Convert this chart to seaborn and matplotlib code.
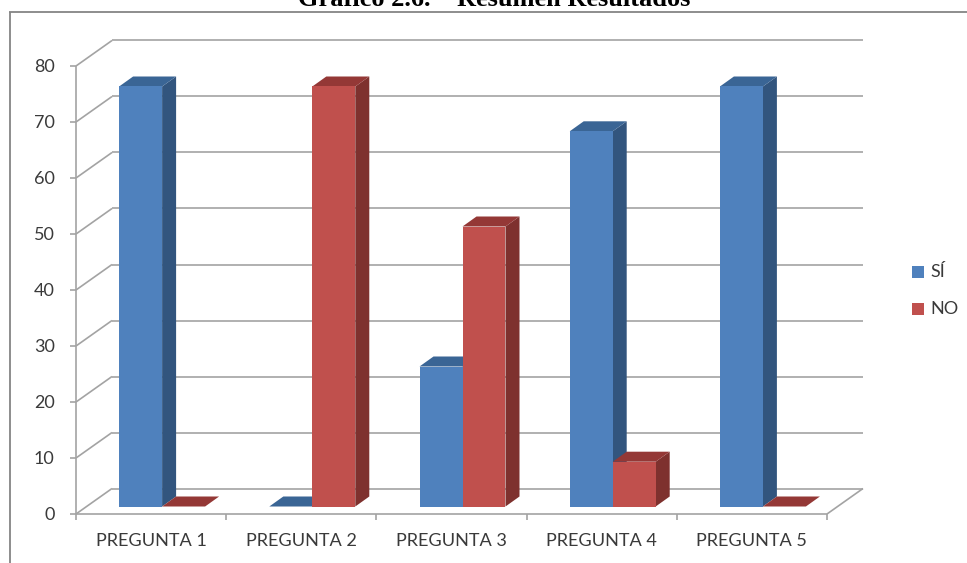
import matplotlib
matplotlib.use("Agg")
import matplotlib.pyplot as plt
from matplotlib.lines import Line2D
from matplotlib.patches import Polygon, Rectangle
from matplotlib.transforms import Affine2D
import pandas as pd
import seaborn as sns

categories = ["PREGUNTA 1", "PREGUNTA 2", "PREGUNTA 3", "PREGUNTA 4", "PREGUNTA 5"]
si_values = [75, 0, 25, 67, 75]
no_values = [0, 75, 50, 8, 0]
y_ticks = [0, 10, 20, 30, 40, 50, 60, 70, 80]
series_names = ["SÍ", "NO"]

FRONT = {"SÍ": "#4F81BD", "NO": "#C0504D"}
SIDE = {"SÍ": "#32557E", "NO": "#7E312E"}
TOP = {"SÍ": "#3A6595", "NO": "#943836"}
GRID = "#A3A3A3"
TEXT = "#3A3A3A"
W, H = 967, 563

sns.set_theme(style="white")
plt.rcParams["font.family"] = ["Lato", "DejaVu Sans"]

fig = plt.figure(figsize=(W / 100, H / 100), dpi=100, facecolor="white")
ax = fig.add_axes([76 / W, (H - 514) / H, (827 - 76) / W, (514 - 66) / H])

df = pd.DataFrame({
    "pregunta": categories * 2,
    "valor": si_values + no_values,
    "serie": [series_names[0]] * 5 + [series_names[1]] * 5,
})
sns.barplot(data=df, x="pregunta", y="valor", hue="serie", hue_order=series_names,
            palette=FRONT, width=0.5725, gap=0, saturation=1, linewidth=0, ax=ax, legend=False)

ax.set_xlim(-0.5, 4.5)
ax.set_ylim(0, 80)
ax.set_xlabel("")
ax.set_ylabel("")
for side in ax.spines.values():
    side.set_visible(False)
ax.patch.set_visible(False)

# Oblique projection, in data units: wall offset and bar depth
unit_x = 150.2
unit_y = 5.6
wall_dx, wall_dy = 36 / unit_x, 25.5 / unit_y
bar_dx, bar_dy = 11 / unit_x, 7.5 / unit_y
depth_x, depth_y = 14 / unit_x, 10 / unit_y

# Back wall, side wall and floor
line_kw = dict(color=GRID, lw=1.2, clip_on=False, zorder=1, solid_capstyle="butt")
for tick in y_ticks:
    ax.plot([-0.5 + wall_dx, 4.5 + wall_dx], [tick + wall_dy] * 2, **line_kw)
    ax.plot([-0.5, -0.5 + wall_dx], [tick, tick + wall_dy], **line_kw)
ax.plot([4.5, 4.5 + wall_dx], [0, wall_dy], **line_kw)
ax.plot([-0.5, 4.5], [0, 0], **line_kw)
ax.plot([-0.5, -0.5], [0, 80], **line_kw)

# Axis ticks and labels
ax.set_yticks(y_ticks)
ax.set_xticks([i - 0.5 for i in range(len(categories) + 1)])
ax.set_xticklabels([])
ax.set_xticks(range(len(categories)), labels=categories, minor=True)
ax.tick_params(axis="y", which="major", left=True, length=4.3, width=1.2, color=GRID,
               labelsize=13, labelcolor=TEXT, pad=11)
ax.tick_params(axis="x", which="major", bottom=True, length=4.3, width=1.2, color=GRID)
ax.tick_params(axis="x", which="minor", bottom=False, length=0, labelsize=13.1,
               labelcolor=TEXT, pad=13.5)

# Each bar gets its shifted front face plus side and top faces
order = 10
for name, container in zip(series_names, ax.containers):
    for bar in container.patches:
        x0 = bar.get_x() + bar_dx
        x1 = x0 + bar.get_width()
        y0 = bar_dy
        y1 = y0 + bar.get_height()
        if bar.get_height() > 0:
            ax.add_patch(Polygon([(x1, y0), (x1 + depth_x, y0 + depth_y),
                                  (x1 + depth_x, y1 + depth_y), (x1, y1)],
                                 closed=True, facecolor=SIDE[name], edgecolor="none",
                                 clip_on=False, zorder=order))
        ax.add_patch(Polygon([(x0, y1), (x1, y1), (x1 + depth_x, y1 + depth_y),
                              (x0 + depth_x, y1 + depth_y)],
                             closed=True, facecolor=TOP[name], edgecolor="none",
                             clip_on=False, zorder=order + 1))
        bar.set_transform(Affine2D().translate(bar_dx, bar_dy) + ax.transData)
        bar.set_clip_on(False)
        bar.set_zorder(order + 2)
        order += 3

# Legend on the right of the plot
for name, y_px in zip(series_names, [272, 309]):
    fig.add_artist(Rectangle((912 / W, (H - y_px - 6) / H), 12 / W, 12 / H,
                             facecolor=FRONT[name], edgecolor="none",
                             transform=fig.transFigure))
    fig.text(930 / W, (H - y_px) / H, name, fontsize=13, color=TEXT, va="center", ha="left")

# Outer frame, open towards the right and bottom edges
frame_kw = dict(color="#858585", lw=1.3, transform=fig.transFigure, solid_capstyle="butt")
fig.add_artist(Line2D([9.5 / W, 9.5 / W], [0, (H - 12) / H], **frame_kw))
fig.add_artist(Line2D([9 / W, 1], [(H - 12) / H] * 2, **frame_kw))

fig.text(494 / W, (H - 6) / H, "Gráfico 2.6.    Resumen Resultados", fontsize=19,
         fontweight="bold", family="Liberation Serif", color="black", ha="center", va="baseline")

fig.savefig("out.png", dpi=100, facecolor="white")
